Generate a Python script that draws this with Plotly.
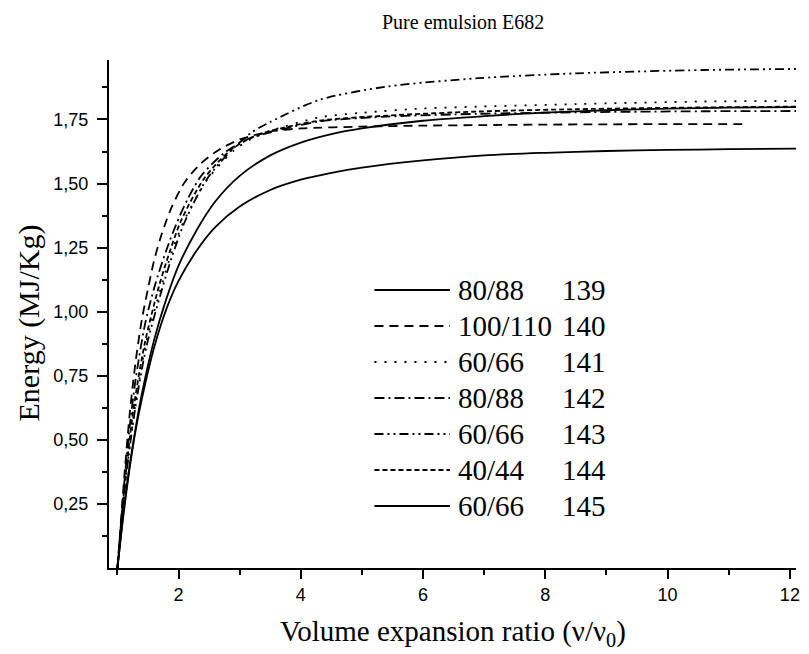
import plotly.graph_objects as go

# ---------------- data ----------------
x139 = [1.0, 1.05, 1.1, 1.2, 1.3, 1.4, 1.6, 1.8, 2.0, 2.3, 2.6, 3.0, 3.5, 4.0, 4.5, 5.0, 6.0, 7.0, 8.0, 9.0, 10.0, 11.0, 12.1]
y139 = [0.0, 0.11, 0.22, 0.40, 0.55, 0.68, 0.89, 1.05, 1.18, 1.32, 1.43, 1.53, 1.61, 1.66, 1.693, 1.715, 1.745, 1.763, 1.777, 1.786, 1.792, 1.796, 1.798]

x145 = [1.0, 1.05, 1.1, 1.2, 1.3, 1.4, 1.6, 1.8, 2.0, 2.3, 2.6, 3.0, 3.5, 4.0, 4.5, 5.0, 6.0, 7.0, 8.0, 9.0, 10.0, 11.0, 12.1]
y145 = [0.0, 0.11, 0.21, 0.39, 0.54, 0.66, 0.86, 1.01, 1.12, 1.24, 1.33, 1.41, 1.475, 1.515, 1.542, 1.562, 1.59, 1.61, 1.62, 1.627, 1.631, 1.634, 1.636]

x140 = [1.0, 1.05, 1.1, 1.2, 1.3, 1.4, 1.5, 1.6, 1.7, 1.8, 1.9, 2.1, 2.35, 2.65, 3.0, 3.5, 4.0, 5.0, 6.0, 7.0, 8.0, 9.0, 10.0, 11.3]
y140 = [0.0, 0.16, 0.32, 0.60, 0.81, 0.97, 1.09, 1.20, 1.285, 1.355, 1.415, 1.505, 1.575, 1.63, 1.672, 1.703, 1.715, 1.722, 1.726, 1.728, 1.730, 1.731, 1.732, 1.732]

x141 = [1.0, 1.05, 1.1, 1.27, 1.47, 1.72, 1.9, 2.1, 2.47, 2.91, 3.2, 3.5, 4.3, 5.0, 6.0, 6.9, 8.5, 10.6, 12.1]
y141 = [0.0, 0.13, 0.27, 0.60, 0.88, 1.10, 1.24, 1.36, 1.515, 1.63, 1.675, 1.705, 1.758, 1.776, 1.793, 1.800, 1.810, 1.820, 1.822]

x142 = [1.0, 1.05, 1.1, 1.2, 1.3, 1.45, 1.61, 1.8, 1.96, 2.15, 2.37, 2.75, 3.1, 3.5, 4.3, 5.4, 6.9, 8.5, 10.6, 12.1]
y142 = [0.0, 0.15, 0.30, 0.55, 0.74, 0.95, 1.10, 1.24, 1.34, 1.44, 1.53, 1.62, 1.67, 1.70, 1.742, 1.761, 1.772, 1.778, 1.782, 1.783]

x143 = [1.0, 1.05, 1.1, 1.27, 1.47, 1.72, 1.9, 2.1, 2.47, 2.91, 3.2, 3.5, 4.3, 5.4, 6.9, 8.5, 10.6, 12.1]
y143 = [0.0, 0.13, 0.27, 0.59, 0.86, 1.08, 1.22, 1.35, 1.52, 1.64, 1.70, 1.74, 1.826, 1.878, 1.911, 1.930, 1.943, 1.947]

x144 = [1.0, 1.05, 1.1, 1.25, 1.45, 1.68, 1.85, 2.05, 2.42, 2.85, 3.2, 3.5, 4.3, 5.4, 6.9, 8.5, 10.6, 12.1]
y144 = [0.0, 0.14, 0.28, 0.60, 0.88, 1.10, 1.23, 1.36, 1.52, 1.63, 1.68, 1.705, 1.745, 1.765, 1.781, 1.790, 1.797, 1.800]

legend_ratio = ["80/88", "100/110", "60/66", "80/88", "60/66", "40/44", "60/66"]
legend_id = ["139", "140", "141", "142", "143", "144", "145"]

ytick_vals = [0.25, 0.50, 0.75, 1.00, 1.25, 1.50, 1.75]
xtick_vals = [2, 4, 6, 8, 10, 12]

# ---------------- styles ----------------
dashes = {
    "139": "solid",
    "140": "9px,6px",
    "141": "2px,8px",
    "142": "10px,4px,2px,4px",
    "143": "9px,4px,2px,4px,2px,4px",
    "144": "5px,3px",
    "145": "solid",
}
series = [
    ("139", x139, y139),
    ("140", x140, y140),
    ("141", x141, y141),
    ("142", x142, y142),
    ("143", x143, y143),
    ("144", x144, y144),
    ("145", x145, y145),
]

LW = 1.8

fig = go.Figure()
for sid, xs, ys in series:
    fig.add_trace(go.Scatter(
        x=xs, y=ys, mode="lines", name=sid, showlegend=False,
        line=dict(color="black", width=LW, dash=dashes[sid], shape="spline", smoothing=0.8),
        hoverinfo="skip",
    ))

# ---------------- plot geometry ----------------
W, H = 809, 654
L, R, T, B = 109, 9, 60, 86
PW, PH = W - L - R, H - T - B

def px_x(px):
    return (px - L) / PW

def px_y(py):
    return (H - B - py) / PH

serif = "Liberation Serif, Times New Roman, serif"
sans = "Liberation Sans, Arial, sans-serif"

# manual legend (long line samples like the original)
shapes = []
annotations = []
row_y = [290, 326, 362, 398, 434, 470, 506]
for i, sid in enumerate(legend_id):
    yy = px_y(row_y[i])
    shapes.append(dict(type="line", xref="paper", yref="paper",
                       x0=px_x(376), x1=px_x(452), y0=yy, y1=yy,
                       line=dict(color="black", width=LW, dash=dashes[sid])))
    annotations.append(dict(xref="paper", yref="paper", x=px_x(458), y=yy,
                            text=legend_ratio[i], showarrow=False, xanchor="left",
                            yanchor="middle", font=dict(family=serif, size=29, color="black")))
    annotations.append(dict(xref="paper", yref="paper", x=px_x(563), y=yy,
                            text=legend_id[i], showarrow=False, xanchor="left",
                            yanchor="middle", font=dict(family=serif, size=29, color="black")))

# axis titles
annotations.append(dict(xref="paper", yref="paper", x=0.5, y=px_y(633),
                        text="Volume expansion ratio (ν/ν<sub>0</sub>)", showarrow=False,
                        xanchor="center", yanchor="middle",
                        font=dict(family=serif, size=29, color="black")))
annotations.append(dict(xref="paper", yref="paper", x=px_x(29), y=px_y(323),
                        text="Energy (MJ/Kg)", showarrow=False, textangle=-90,
                        xanchor="center", yanchor="middle",
                        font=dict(family=serif, size=30, color="black")))
# title
annotations.append(dict(xref="paper", yref="paper", x=px_x(465), y=px_y(22),
                        text="Pure emulsion E682", showarrow=False,
                        xanchor="center", yanchor="middle",
                        font=dict(family=serif, size=20, color="black")))

fig.update_layout(
    width=W, height=H,
    margin=dict(l=L, r=R, t=T, b=B, pad=0),
    paper_bgcolor="white", plot_bgcolor="white",
    showlegend=False,
    shapes=shapes,
    annotations=annotations,
)

fig.update_xaxes(
    range=[0.862, 12.1], showgrid=False, zeroline=False,
    showline=True, linecolor="black", linewidth=2,
    ticks="outside", ticklen=9, tickwidth=2, tickcolor="black",
    tickmode="array", tickvals=xtick_vals, ticktext=[str(v) for v in xtick_vals],
    tickfont=dict(family=sans, size=18, color="black"),
    ticklabeloverflow="allow",
    minor=dict(tickmode="array", tickvals=[1, 3, 5, 7, 9, 11], ticks="outside",
               ticklen=5, tickwidth=2, tickcolor="black"),
)
fig.update_yaxes(
    range=[0.0, 1.982], showgrid=False, zeroline=False,
    showline=True, linecolor="black", linewidth=2,
    ticks="outside", ticklen=10, tickwidth=2, tickcolor="black",
    tickmode="array", tickvals=ytick_vals,
    ticktext=[f"{v:.2f}".replace(".", ",") for v in ytick_vals],
    tickfont=dict(family=sans, size=18, color="black"),
    ticklabelstandoff=5,
    minor=dict(tickmode="array", tickvals=[0.125, 0.375, 0.625, 0.875, 1.125, 1.375, 1.625, 1.875],
               ticks="outside", ticklen=5, tickwidth=2, tickcolor="black"),
)

fig.write_html(
    "out.html",
    config={"displayModeBar": False},
    post_script="document.body.style.margin='0';document.body.style.overflow='hidden';",
)
